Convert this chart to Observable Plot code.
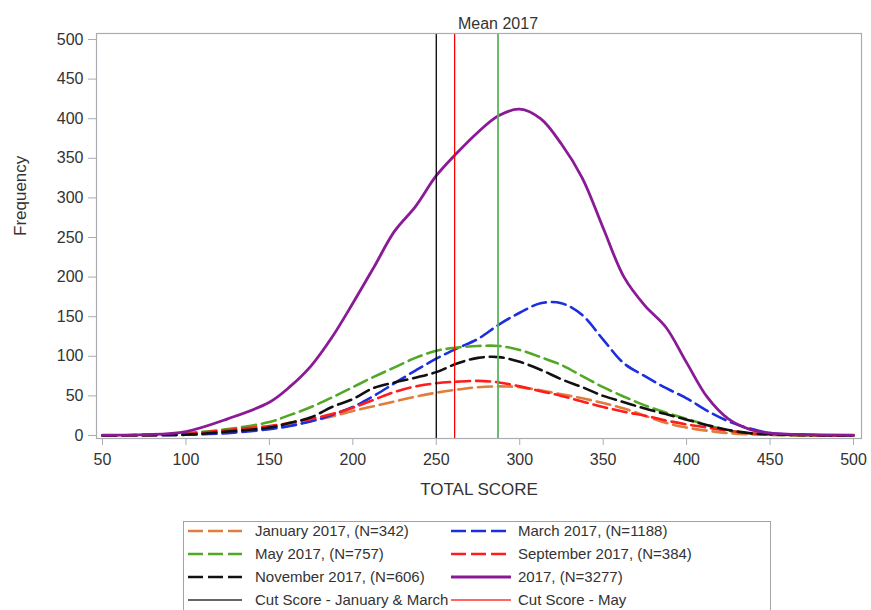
<!DOCTYPE html>
<html>
<head>
<meta charset="utf-8">
<script src="https://cdn.jsdelivr.net/npm/d3@7"></script>
<script src="https://cdn.jsdelivr.net/npm/@observablehq/plot@0.6"></script>
<style>
  html, body { margin: 0; padding: 0; background: #fff; overflow: hidden; }
  #wrap { position: relative; width: 871px; height: 610px; }
  #legend { position: absolute; left: 0; top: 515px; }
</style>
</head>
<body>
<div id="wrap"></div>
<script>
// ---- Data ----
const scores = [50, 75, 100, 125, 150, 162.5, 175, 187.5, 200, 212.5, 225, 237.5, 250, 262.5, 275, 287.5, 300, 312.5, 325, 337.5, 350, 362.5, 375, 387.5, 400, 412.5, 425, 437.5, 450, 475, 500];

const january   = [0, 0.5, 1, 4, 9, 13, 18, 24, 31, 37, 43, 49, 54, 58, 61, 62, 61, 57, 52, 47, 41, 34, 25, 16, 10, 6, 3, 1.5, 0.8, 0.3, 0];
const march     = [0, 0, 1, 3, 8, 12, 18, 26, 36, 50, 66, 82, 97, 110, 122, 140, 155, 167, 167, 152, 121, 91, 75, 60, 47, 31, 18, 9, 3, 0.5, 0];
const may       = [0, 0.5, 3, 8, 17, 26, 36, 48, 61, 74, 86, 98, 107, 111, 113, 113, 108, 99, 89, 75, 61, 49, 38, 29, 21, 13, 6, 3, 1, 0, 0];
const september = [0, 0.5, 2, 7, 12, 16, 21, 27, 35, 45, 55, 62, 66, 68, 69, 67, 62, 56, 50, 43, 36, 30, 25, 19, 14, 10, 6, 3, 1.5, 0.3, 0];
const november  = [0, 0.5, 1, 5, 10, 16, 23, 36, 46, 60, 67, 73, 80, 91, 98, 99, 93, 83, 71, 61, 50, 42, 34, 27, 20, 13, 7, 3, 1.5, 0.3, 0];
const total2017 = [0.5, 1, 5, 21, 42, 62, 88, 124, 167, 212, 258, 289, 328, 357, 383, 404, 412, 400, 368, 325, 262, 200, 164, 137, 92, 48, 21, 8, 3, 1, 0.5];

const seriesNames  = ["January 2017, (N=342)", "March 2017, (N=1188)", "May 2017, (N=757)", "September 2017, (N=384)", "November 2017, (N=606)", "2017, (N=3277)"];
const seriesValues = [january, march, may, september, november, total2017];
const seriesColors = ["#e07d3a", "#1c2fdc", "#52a826", "#ff1c1c", "#111111", "#8a1a96"];
const seriesDashed = [true, true, true, true, true, false];

const cutScores = [250, 261];
const cutNames  = ["Cut Score - January & March", "Cut Score - May"];
const cutColors = ["#000000", "#ff0000"];

const meanScore = 287;
const meanLabel = "Mean 2017";
const meanColor = "#5cb35c";

const xTicks = [50, 100, 150, 200, 250, 300, 350, 400, 450, 500];
const yTicks = [0, 50, 100, 150, 200, 250, 300, 350, 400, 450, 500];
const xLabel = "TOTAL SCORE";
const yLabel = "Frequency";

// ---- Build chart ----
const font = "'Liberation Sans', Arial, sans-serif";
const axisGray = "#a9adb2";
const textColor = "#333333";

const lineMarks = seriesValues.map((vals, k) => Plot.line(
  scores.map((s, i) => ({score: s, freq: vals[i]})),
  {
    x: "score", y: "freq",
    stroke: seriesColors[k],
    strokeWidth: seriesDashed[k] ? 2.6 : 2.8,
    strokeDasharray: seriesDashed[k] ? "14,6" : null,
    curve: "catmull-rom"
  }
));

const cutMarks = cutScores.map((c, k) => Plot.ruleX([c], {stroke: cutColors[k], strokeWidth: 1.3}));

const chart = Plot.plot({
  width: 871,
  height: 515,
  marginLeft: 96,
  marginRight: 10,
  marginTop: 33,
  marginBottom: 77,
  style: {fontFamily: font, fontSize: "16px", background: "#fff", color: textColor},
  x: {domain: [46.4, 504.8]},
  y: {domain: [-3.8, 507.6]},
  marks: [
    Plot.axisX({ticks: xTicks, tickSize: 7, tickPadding: 8, stroke: axisGray, fill: textColor, fontSize: 16, label: null}),
    Plot.axisY({ticks: yTicks, tickSize: 8, tickPadding: 5, stroke: axisGray, fill: textColor, fontSize: 16, label: null}),
    ...lineMarks,
    ...cutMarks,
    Plot.ruleX([meanScore], {stroke: meanColor, strokeWidth: 1.8}),
    Plot.text([meanLabel], {text: d => d, x: meanScore, frameAnchor: "top", dy: -16, fontSize: 16, fill: textColor}),
    Plot.text([xLabel], {text: d => d, frameAnchor: "bottom", dy: 56, fontSize: 17, fill: textColor}),
    Plot.text([yLabel], {text: d => d, frameAnchor: "left", dx: -76, rotate: -90, fontSize: 17, fill: textColor}),
    Plot.frame({stroke: axisGray, strokeWidth: 1.2})
  ]
});

const wrap = document.getElementById("wrap");
wrap.appendChild(chart);

// ---- Legend (below the SVG) ----
const legendItems = seriesNames.map((n, k) => ({name: n, color: seriesColors[k], dashed: seriesDashed[k], width: seriesDashed[k] ? 2.6 : 3}))
  .concat(cutNames.map((n, k) => ({name: n, color: cutColors[k], dashed: false, width: 1.3, thin: true})));

const leg = d3.select(wrap).append("svg")
  .attr("id", "legend")
  .attr("width", 871).attr("height", 95)
  .style("font-family", font);

leg.append("rect")
  .attr("x", 183.5).attr("y", 6.5).attr("width", 587).attr("height", 110)
  .attr("fill", "none").attr("stroke", "#a0a4a8");

const colX = [{sx: 188, ex: 242, tx: 255}, {sx: 451, ex: 511, tx: 518}];
const rowY = [16, 39, 62, 85];

legendItems.forEach((it, i) => {
  const c = colX[i % 2], r = rowY[Math.floor(i / 2)];
  leg.append("line")
    .attr("x1", c.sx).attr("x2", c.ex).attr("y1", r).attr("y2", r)
    .attr("stroke", it.color).attr("stroke-width", it.width)
    .attr("stroke-dasharray", it.dashed ? "15,5" : null)
    .attr("stroke-opacity", it.thin ? 0.8 : 1);
  leg.append("text")
    .attr("x", c.tx).attr("y", r).attr("dy", "0.36em")
    .attr("font-size", 15).attr("fill", textColor)
    .text(it.name);
});
</script>
</body>
</html>
